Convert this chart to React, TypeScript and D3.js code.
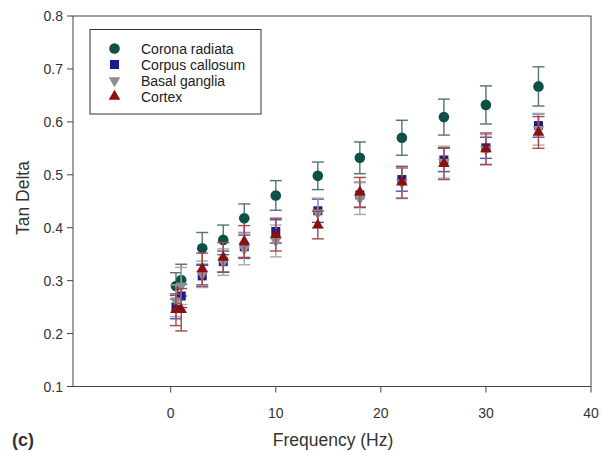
import React from 'react';
import * as d3 from 'd3';

// Frequencies (Hz) and tan delta means / error bars per tissue
const freqs = [0.5, 1, 3, 5, 7, 10, 14, 18, 22, 26, 30, 35];

const coronaMean = [0.290, 0.301, 0.361, 0.377, 0.418, 0.461, 0.498, 0.532, 0.570, 0.609, 0.632, 0.667];
const coronaErr = [0.025, 0.030, 0.030, 0.028, 0.027, 0.028, 0.026, 0.030, 0.033, 0.034, 0.036, 0.037];

const callosumMean = [0.250, 0.271, 0.309, 0.336, 0.364, 0.393, 0.432, 0.462, 0.491, 0.528, 0.551, 0.593];
const callosumErr = [0.022, 0.022, 0.020, 0.020, 0.022, 0.022, 0.022, 0.024, 0.022, 0.022, 0.020, 0.022];

const basalMean = [0.262, 0.290, 0.312, 0.335, 0.360, 0.375, 0.428, 0.455, 0.485, 0.524, 0.548, 0.586];
const basalErr = [0.030, 0.035, 0.025, 0.025, 0.030, 0.030, 0.028, 0.030, 0.030, 0.030, 0.028, 0.030];

const cortexMean = [0.245, 0.245, 0.322, 0.344, 0.374, 0.387, 0.405, 0.467, 0.486, 0.521, 0.549, 0.580];
const cortexErr = [0.030, 0.040, 0.030, 0.028, 0.030, 0.031, 0.026, 0.028, 0.030, 0.030, 0.030, 0.030];

const xTicks = [0, 10, 20, 30, 40];
const yTicks = [0.1, 0.2, 0.3, 0.4, 0.5, 0.6, 0.7, 0.8];

const series = [
  { name: 'Corona radiata', mean: coronaMean, err: coronaErr, shape: 'circle', fill: '#0e4f47', bar: '#557373' },
  { name: 'Corpus callosum', mean: callosumMean, err: callosumErr, shape: 'square', fill: '#1c1c8e', bar: '#5050a8' },
  { name: 'Basal ganglia', mean: basalMean, err: basalErr, shape: 'down', fill: '#8f8f8f', bar: '#a8a8a8' },
  { name: 'Cortex', mean: cortexMean, err: cortexErr, shape: 'up', fill: '#8e0f0f', bar: '#a84848' },
];

const W = 601, H = 452;
const left = 73, right = 591, top = 16, bottom = 386.5;
const font = 'Liberation Sans, Arial, sans-serif';

const x = d3.scaleLinear().domain([-9.3, 40]).range([left, right]);
const y = d3.scaleLinear().domain([0.1, 0.8]).range([bottom, top]);

const Marker = ({ shape, fill, cx, cy }: any) => {
  if (shape === 'circle') return <circle cx={cx} cy={cy} r={5.3} fill={fill} />;
  if (shape === 'square') return <rect x={cx - 4.5} y={cy - 4.5} width={9} height={9} fill={fill} />;
  const tri = d3.symbol().type(d3.symbolTriangle).size(58)();
  return <path d={tri || ''} transform={`translate(${cx},${cy}) rotate(${shape === 'down' ? 180 : 0})`} fill={fill} />;
};

export default function App() {
  return (
    <svg width={W} height={H} style={{ position: 'absolute', left: 0, top: 0, background: '#fff' }}>
      {/* frame */}
      <rect x={left} y={top} width={right - left} height={bottom - top} fill="none" stroke="#444" strokeWidth={1} />

      {/* y axis */}
      {yTicks.map(t => (
        <g key={t}>
          <line x1={left - 6} x2={left} y1={y(t)} y2={y(t)} stroke="#444" />
          <text x={left - 10} y={y(t) + 5} textAnchor="end" fontFamily={font} fontSize={14} fill="#333">{t.toFixed(1)}</text>
        </g>
      ))}
      {/* x axis */}
      {xTicks.map(t => (
        <g key={t}>
          <line x1={x(t)} x2={x(t)} y1={bottom} y2={bottom + 6} stroke="#444" />
          <text x={x(t)} y={418} textAnchor="middle" fontFamily={font} fontSize={14} fill="#333">{t}</text>
        </g>
      ))}

      <text transform={`translate(29,198) rotate(-90)`} textAnchor="middle" fontFamily={font} fontSize={17.5} fill="#333">Tan Delta</text>
      <text x={333} y={446} textAnchor="middle" fontFamily={font} fontSize={17.5} fill="#333">Frequency (Hz)</text>
      <text x={12} y={446} fontFamily={font} fontSize={18} fontWeight="bold" fill="#333">(c)</text>

      {/* data */}
      {series.map(s => (
        <g key={s.name}>
          {freqs.map((f, i) => {
            const cx = x(f), y0 = y(s.mean[i] - s.err[i]), y1 = y(s.mean[i] + s.err[i]);
            return (
              <g key={f} stroke={s.bar} strokeWidth={1.4}>
                <line x1={cx} x2={cx} y1={y0} y2={y1} />
                <line x1={cx - 6} x2={cx + 6} y1={y0} y2={y0} />
                <line x1={cx - 6} x2={cx + 6} y1={y1} y2={y1} />
              </g>
            );
          })}
          {freqs.map((f, i) => (
            <Marker key={f} shape={s.shape} fill={s.fill} cx={x(f)} cy={y(s.mean[i])} />
          ))}
        </g>
      ))}

      {/* legend */}
      <rect x={90} y={29.5} width={171} height={84.5} fill="#fff" stroke="#333" strokeWidth={1} />
      {series.map((s, i) => (
        <g key={s.name}>
          <Marker shape={s.shape} fill={s.fill} cx={114.5} cy={48.5 + i * 16} />
          <text x={141} y={53.5 + i * 16} fontFamily={font} fontSize={14} fill="#222">{s.name}</text>
        </g>
      ))}
    </svg>
  );
}
